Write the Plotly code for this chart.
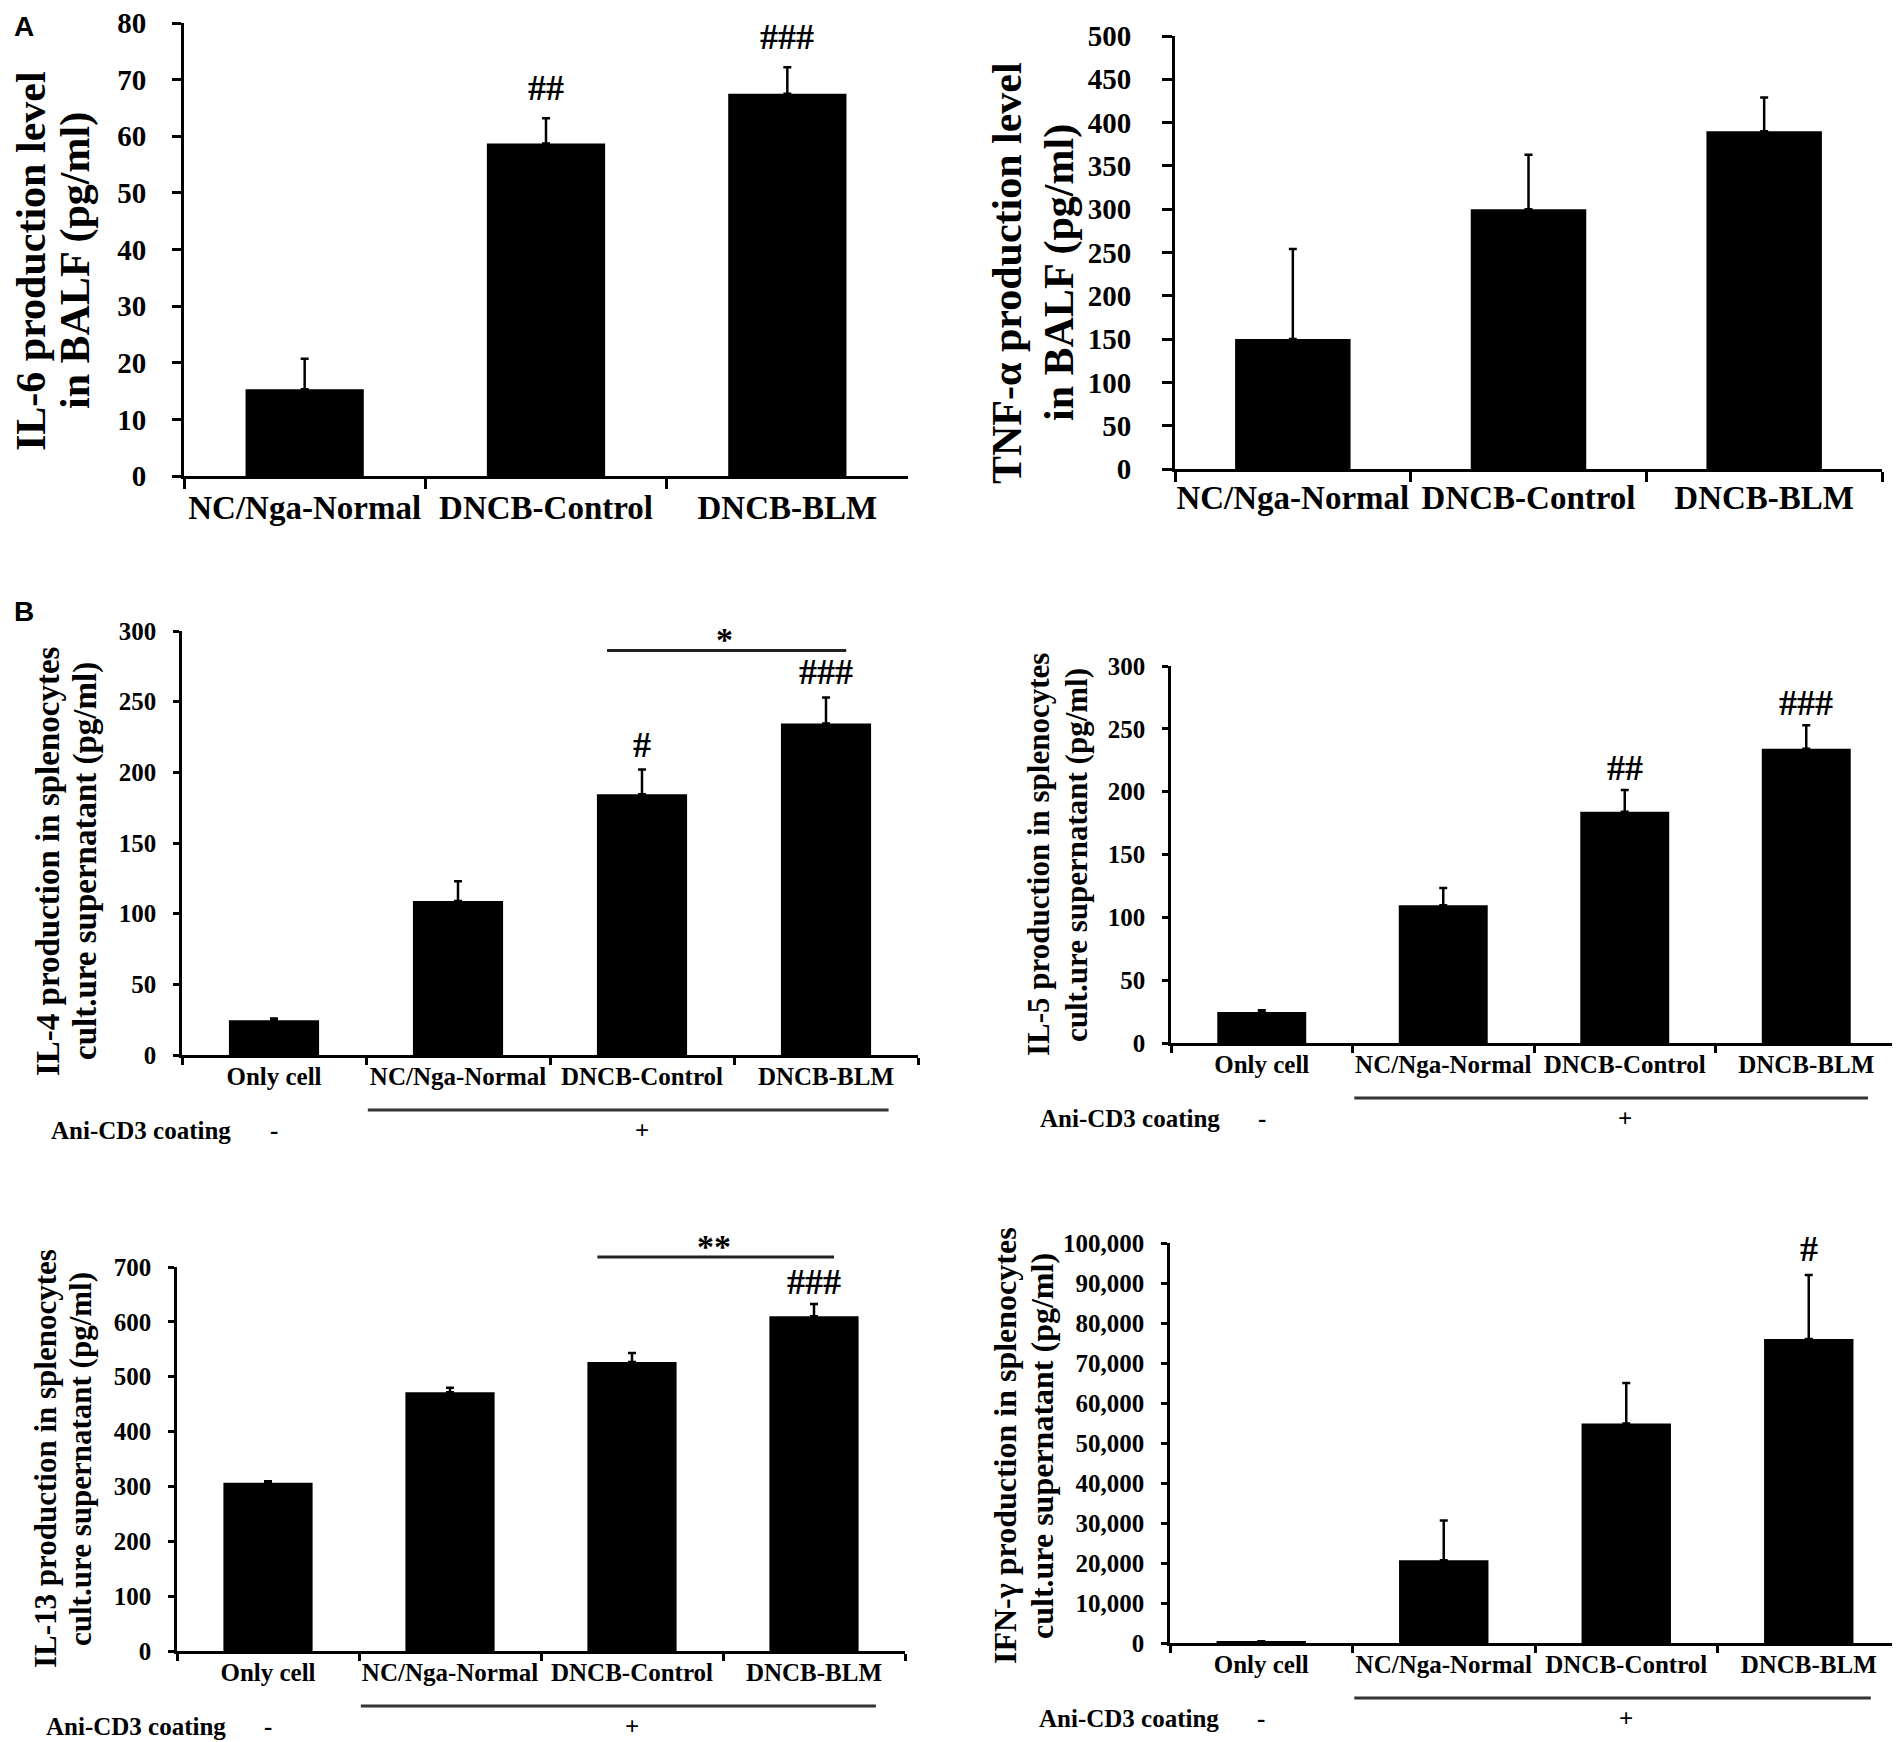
import plotly.graph_objects as go

W, H = 1900, 1742
SERIF = "Liberation Serif"

# ---------------- data ----------------
groups_a = ["NC/Nga-Normal", "DNCB-Control", "DNCB-BLM"]
groups_b = ["Only cell", "NC/Nga-Normal", "DNCB-Control", "DNCB-BLM"]

il6_mean = [15.3, 58.7, 67.5]
il6_sem = [5.4, 4.5, 4.7]
il6_marks = ["", "##", "###"]

tnf_mean = [150, 300, 390]
tnf_sem = [104, 63, 39]
tnf_marks = ["", "", ""]

il4_mean = [24.6, 109, 184.5, 234.5]
il4_sem = [1.3, 14, 17.5, 18.5]
il4_marks = ["", "", "#", "###"]

il5_mean = [24.7, 109.6, 184, 234.2]
il5_sem = [1.3, 13.7, 17.4, 18.7]
il5_marks = ["", "", "##", "###"]

il13_mean = [306.6, 471.8, 527, 610]
il13_sem = [3, 7.9, 16.4, 22.6]
il13_marks = ["", "", "", "###"]

ifn_mean = [300, 20700, 54900, 76000]
ifn_sem = [150, 9900, 10100, 16000]
ifn_marks = ["", "", "", "#"]

coating_row = ["-", "+"]

# ---------------- helpers ----------------
def fx(x):
    return x / W


def fy(y):
    return 1 - y / H


panels = [
    dict(cats=groups_a, mean=il6_mean, sem=il6_sem, marks=il6_marks, ymax=80, dtick=10, fmt="d",
         box=(176, 900, 15, 468), title=["IL-6 production level", "in BALF (pg/ml)"],
         tx=(23, 67), ty=253, tsize=42, ticksize=29, catsize=33, lw=3, tlen=9, xtlen=10,
         ystand=20, xstand=0, mshift=8, sig=None, coating=False),
    dict(cats=groups_a, mean=tnf_mean, sem=tnf_sem, marks=tnf_marks, ymax=500, dtick=50, fmt="d",
         box=(1167, 1874, 28, 461), title=["TNF-\u03b1 production level", "in BALF (pg/ml)"],
         tx=(999, 1051), ty=265, tsize=42, ticksize=29, catsize=33, lw=3, tlen=10, xtlen=10,
         ystand=25, xstand=-3, mshift=4, sig=None, coating=False),
    dict(cats=groups_b, mean=il4_mean, sem=il4_sem, marks=il4_marks, ymax=300, dtick=50, fmt="d",
         box=(174, 910, 623, 1047),
         title=["IL-4 production in splenocytes", "cult.ure supernatant (pg/ml)"],
         tx=(40, 77), ty=853, tsize=33, ticksize=25, catsize=25, lw=2.5, tlen=6, xtlen=7,
         ystand=12, xstand=-3, mshift=3, sig="*", coating=True),
    dict(cats=groups_b, mean=il5_mean, sem=il5_sem, marks=il5_marks, ymax=300, dtick=50, fmt="d",
         box=(1163, 1889, 658, 1035),
         title=["IL-5 production in splenocytes", "cult.ure supernatant (pg/ml)"],
         tx=(1030, 1068), ty=847, tsize=31, ticksize=25, catsize=25, lw=2.5, tlen=6, xtlen=7,
         ystand=12, xstand=-3, mshift=0, sig=None, coating=True),
    dict(cats=groups_b, mean=il13_mean, sem=il13_sem, marks=il13_marks, ymax=700, dtick=100, fmt="d",
         box=(169, 897, 1259, 1643),
         title=["IL-13 production in splenocytes", "cult.ure supernatant (pg/ml)"],
         tx=(37, 72), ty=1451, tsize=31, ticksize=25, catsize=25, lw=2.5, tlen=6, xtlen=7,
         ystand=12, xstand=-3, mshift=0, sig="**", coating=True),
    dict(cats=groups_b, mean=ifn_mean, sem=ifn_sem, marks=ifn_marks, ymax=100000, dtick=10000, fmt=",d",
         box=(1162, 1892, 1235, 1635),
         title=["IFN-\u03b3 production in splenocytes", "cult.ure supernatant (pg/ml)"],
         tx=(997, 1034), ty=1438, tsize=32, ticksize=25, catsize=25, lw=2.5, tlen=6, xtlen=7,
         ystand=12, xstand=-3, mshift=4, sig=None, coating=True),
]

fig = go.Figure()
annotations = []
shapes = []
layout = {}

for i, p in enumerate(panels, start=1):
    sfx = "" if i == 1 else str(i)
    xa, ya = "x" + sfx, "y" + sfx
    n = len(p["cats"])
    x0, x1, ytop, ybot = p["box"]
    plot_h = ybot - ytop

    fig.add_trace(go.Bar(
        x=p["cats"], y=p["mean"], width=0.49,
        marker=dict(color="black", line=dict(width=0)),
        error_y=dict(type="data", array=p["sem"], arrayminus=[0] * n, symmetric=False,
                     color="black", thickness=2.5, width=4),
        xaxis=xa, yaxis=ya, showlegend=False, hoverinfo="skip",
    ))

    layout["xaxis" + sfx] = dict(
        domain=[fx(x0), fx(x1)], anchor=ya, type="category",
        categoryorder="array", categoryarray=p["cats"],
        range=[-0.5, n - 0.5], showline=True, linecolor="black", linewidth=p["lw"],
        ticks="outside", tickson="boundaries", ticklen=p["xtlen"], tickwidth=p["lw"],
        tickcolor="black", showgrid=False, zeroline=False, fixedrange=True,
        tickangle=0, automargin=False, ticklabeloverflow="allow",
        tickfont=dict(family=SERIF, size=p["catsize"], color="black", weight="bold"),
        ticklabelstandoff=p["xstand"],
    )
    layout["yaxis" + sfx] = dict(
        domain=[fy(ybot), fy(ytop)], anchor=xa, range=[0, p["ymax"]],
        tick0=0, dtick=p["dtick"], tickformat=p["fmt"],
        showline=True, linecolor="black", linewidth=p["lw"],
        ticks="outside", ticklen=p["tlen"], tickwidth=p["lw"], tickcolor="black",
        showgrid=False, zeroline=False, fixedrange=True, automargin=False,
        ticklabeloverflow="allow",
        tickfont=dict(family=SERIF, size=p["ticksize"], color="black", weight="bold"),
        ticklabelstandoff=p["ystand"],
    )

    # rotated y titles (two lines, centred)
    for line, cx in zip(p["title"], p["tx"]):
        annotations.append(dict(
            text=line, xref="paper", yref="paper", x=fx(cx), y=fy(p["ty"]),
            xanchor="center", yanchor="middle", textangle=-90, showarrow=False,
            font=dict(family=SERIF, size=p["tsize"], color="black", weight="bold"),
        ))

    # significance marks above bars
    for j, m in enumerate(p["marks"]):
        if m:
            annotations.append(dict(
                text=m, xref=xa, yref=ya + " domain", x=j,
                y=(p["mean"][j] + p["sem"][j]) / p["ymax"], yshift=p["mshift"],
                xanchor="center", yanchor="bottom", showarrow=False,
                font=dict(family=SERIF, size=36, color="black", weight="bold"),
            ))

    # comparison bar (DNCB-Control vs DNCB-BLM)
    if p["sig"]:
        top = max(p["mean"][k] + p["sem"][k] for k in (2, 3)) / p["ymax"] + 47 / plot_h
        shapes.append(dict(type="line", xref=xa, yref=ya + " domain",
                           x0=2 - 0.19, x1=3 + 0.11, y0=top, y1=top,
                           line=dict(color="#222", width=3)))
        annotations.append(dict(
            text=p["sig"], xref=xa, yref=ya + " domain", x=2.45, y=top, yshift=-10,
            xanchor="center", yanchor="bottom", showarrow=False,
            font=dict(family=SERIF, size=34, color="black", weight="bold"),
        ))

    # anti-CD3 coating row
    if p["coating"]:
        yb = ybot + 55
        shapes.append(dict(type="line", xref=xa, yref="paper",
                           x0=0.51, x1=3.34, y0=fy(yb), y1=fy(yb),
                           line=dict(color="#333", width=3)))
        yc = ybot + 75
        annotations.append(dict(
            text="Ani-CD3 coating", xref="paper", yref="paper", x=fx(x0 - 41), y=fy(yc),
            xanchor="center", yanchor="middle", showarrow=False,
            font=dict(family=SERIF, size=25, color="black", weight="bold"),
        ))
        for pos, sign in zip((0, 2), coating_row):
            annotations.append(dict(
                text=sign, xref=xa, yref="paper", x=pos, y=fy(yc),
                xanchor="center", yanchor="middle", showarrow=False,
                font=dict(family=SERIF, size=25, color="black", weight="bold"),
            ))

# panel letters
for letter, (cx, cy) in zip(["A", "B"], [(16, 19), (16, 603)]):
    annotations.append(dict(
        text=letter, xref="paper", yref="paper", x=fx(cx), y=fy(cy),
        xanchor="center", yanchor="middle", showarrow=False,
        font=dict(family="Liberation Sans", size=28, color="black", weight="bold"),
    ))

fig.update_layout(
    width=W, height=H, autosize=False,
    margin=dict(l=0, r=0, t=0, b=0, pad=0, autoexpand=False),
    paper_bgcolor="white", plot_bgcolor="white",
    bargap=0.5, showlegend=False,
    annotations=annotations, shapes=shapes,
    **layout,
)

fig.write_html("out.html")
